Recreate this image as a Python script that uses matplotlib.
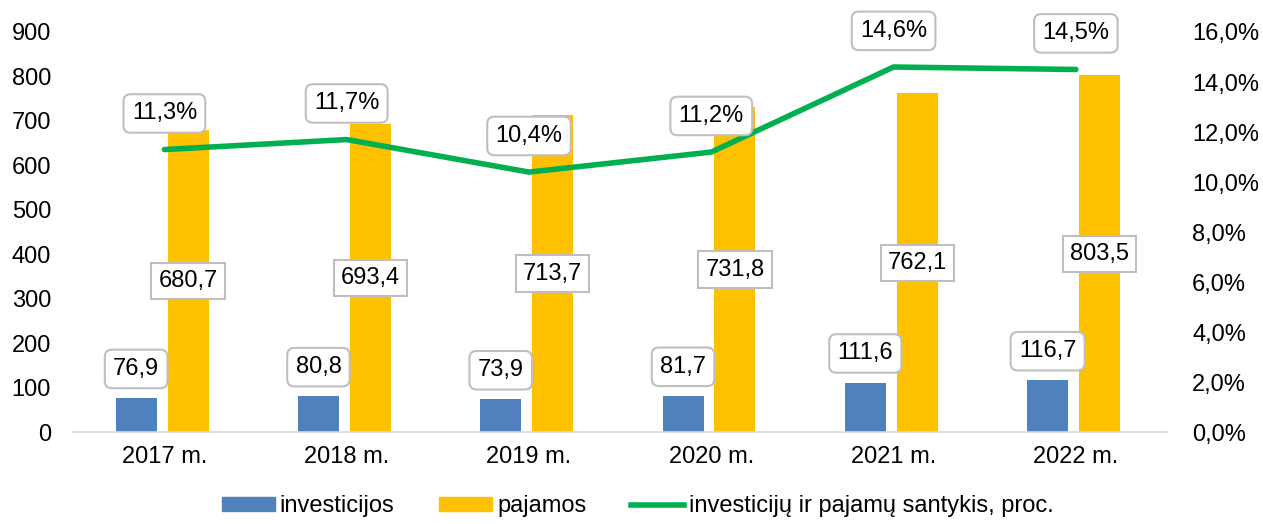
import numpy as np
import matplotlib.pyplot as plt
from matplotlib.patches import Patch
from matplotlib.lines import Line2D

plt.rcParams['font.family'] = ['Liberation Sans', 'DejaVu Sans']
plt.rcParams['font.size'] = 17

years = ['2017 m.', '2018 m.', '2019 m.', '2020 m.', '2021 m.', '2022 m.']
investicijos = [76.9, 80.8, 73.9, 81.7, 111.6, 116.7]
pajamos = [680.7, 693.4, 713.7, 731.8, 762.1, 803.5]
santykis = [11.3, 11.7, 10.4, 11.2, 14.6, 14.5]

blue = '#4f81bd'
orange = '#ffc000'
green = '#00b050'


def fmt(v, pct=False):
    s = f'{v:.1f}'.replace('.', ',')
    return s + '%' if pct else s


fig = plt.figure(figsize=(12.63, 5.24), dpi=100)
ax = fig.add_axes([0.058, 0.175, 0.866, 0.764])
ax2 = ax.twinx()

x = np.arange(len(years))
w = 0.225
ax.bar(x - 0.155, investicijos, w, color=blue, zorder=2)
ax.bar(x + 0.13, pajamos, w, color=orange, zorder=2)

ax.set_xlim(-0.5, len(years) - 0.5)
ax.set_ylim(0, 900)
ax.set_yticks(range(0, 901, 100))
ax.set_xticks(x)
ax.set_xticklabels(years)
ax.tick_params(length=0, labelsize=17)
ax.tick_params(axis='x', pad=10)
ax.tick_params(axis='y', pad=16)
for s in ['top', 'right', 'left']:
    ax.spines[s].set_visible(False)
    ax2.spines[s].set_visible(False)
ax.spines['bottom'].set_color('#d9d9d9')
ax.spines['bottom'].set_linewidth(1.2)
ax2.spines['bottom'].set_visible(False)

ax2.plot(x, santykis, color=green, lw=4, solid_capstyle='round', zorder=3)
ax2.set_ylim(0, 16)
ax2.set_yticks(np.arange(0, 16.1, 2))
ax2.set_yticklabels([fmt(v, True) for v in np.arange(0, 16.1, 2)])
ax2.tick_params(length=0, labelsize=17, pad=18)

rbox = dict(boxstyle='round,pad=0.35,rounding_size=0.3', fc='white', ec='#bfbfbf', lw=1.5)
sbox = dict(boxstyle='square,pad=0.3', fc='white', ec='#bfbfbf', lw=1.5)

for i in range(len(years)):
    ax.annotate(fmt(investicijos[i]), (x[i] - 0.155, investicijos[i]),
                xytext=(0, 21), textcoords='offset points', ha='center', va='center',
                bbox=rbox, zorder=5)
    ax.text(x[i] + 0.13, pajamos[i] / 2, fmt(pajamos[i]), ha='center', va='center',
            bbox=sbox, zorder=5)
    ax2.annotate(fmt(santykis[i], True), (x[i], santykis[i]),
                 xytext=(0, 26), textcoords='offset points', ha='center', va='center',
                 bbox=rbox, zorder=5)

handles = [Patch(color=blue), Patch(color=orange), Line2D([0], [0], color=green, lw=4)]
labels = ['investicijos', 'pajamos', 'investicijų ir pajamų santykis, proc.']
fig.legend(handles, labels, loc='lower center', bbox_to_anchor=(0.505, -0.028), ncol=3,
           frameon=False, fontsize=17, handlelength=2.25, handleheight=0.5,
           columnspacing=1.9, handletextpad=0.2)

fig.savefig('out.png', dpi=100)
